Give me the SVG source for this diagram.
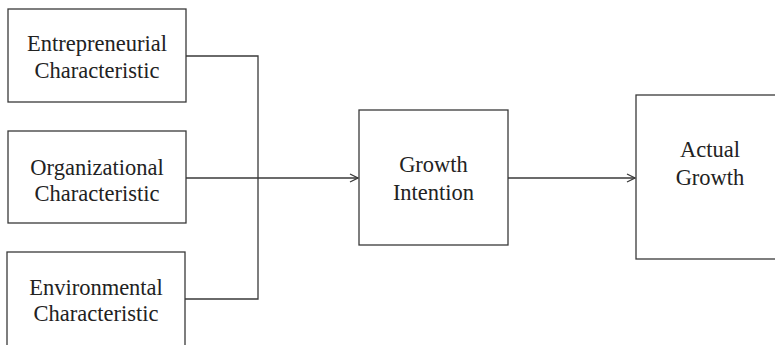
<svg xmlns="http://www.w3.org/2000/svg" width="775" height="345" viewBox="0 0 775 345">
<style>
.box{fill:#fff;stroke:#3a3a3a;stroke-width:1.3}
.t{font-family:"Liberation Serif","Times New Roman",serif;font-size:22.5px;fill:#222;text-anchor:middle}
.c{fill:none;stroke:#3a3a3a;stroke-width:1.3}
</style>
<defs>
<marker id="ah" markerWidth="10" markerHeight="10" refX="9" refY="5" orient="auto" markerUnits="userSpaceOnUse">
<path d="M1,1 L9,5 L1,9" fill="none" stroke="#3a3a3a" stroke-width="1.3"/>
</marker>
</defs>
<rect width="775" height="345" fill="#fff"/>
<g id="connectors">
<path class="c" d="M186,56 H258 V299 H185"/>
<path class="c" d="M186,178 H258"/>
<path class="c" d="M258,178 H358" marker-end="url(#ah)"/>
<path class="c" d="M508,178 H635" marker-end="url(#ah)"/>
</g>
<g id="entrepreneurial">
<rect class="box" x="8" y="9" width="178" height="93"/>
<text class="t" x="97" y="51">Entrepreneurial</text>
<text class="t" x="97" y="78">Characteristic</text>
</g>
<g id="organizational">
<rect class="box" x="8" y="131" width="178" height="92"/>
<text class="t" x="97" y="175">Organizational</text>
<text class="t" x="97" y="201">Characteristic</text>
</g>
<g id="environmental">
<rect class="box" x="7" y="252" width="178" height="110"/>
<text class="t" x="96" y="295">Environmental</text>
<text class="t" x="96" y="321">Characteristic</text>
</g>
<g id="growth-intention">
<rect class="box" x="359" y="110" width="149" height="135"/>
<text class="t" x="433.5" y="172">Growth</text>
<text class="t" x="433.5" y="200">Intention</text>
</g>
<g id="actual-growth">
<rect class="box" x="636" y="95" width="150" height="164"/>
<text class="t" x="710" y="157">Actual</text>
<text class="t" x="710" y="185">Growth</text>
</g>
</svg>
